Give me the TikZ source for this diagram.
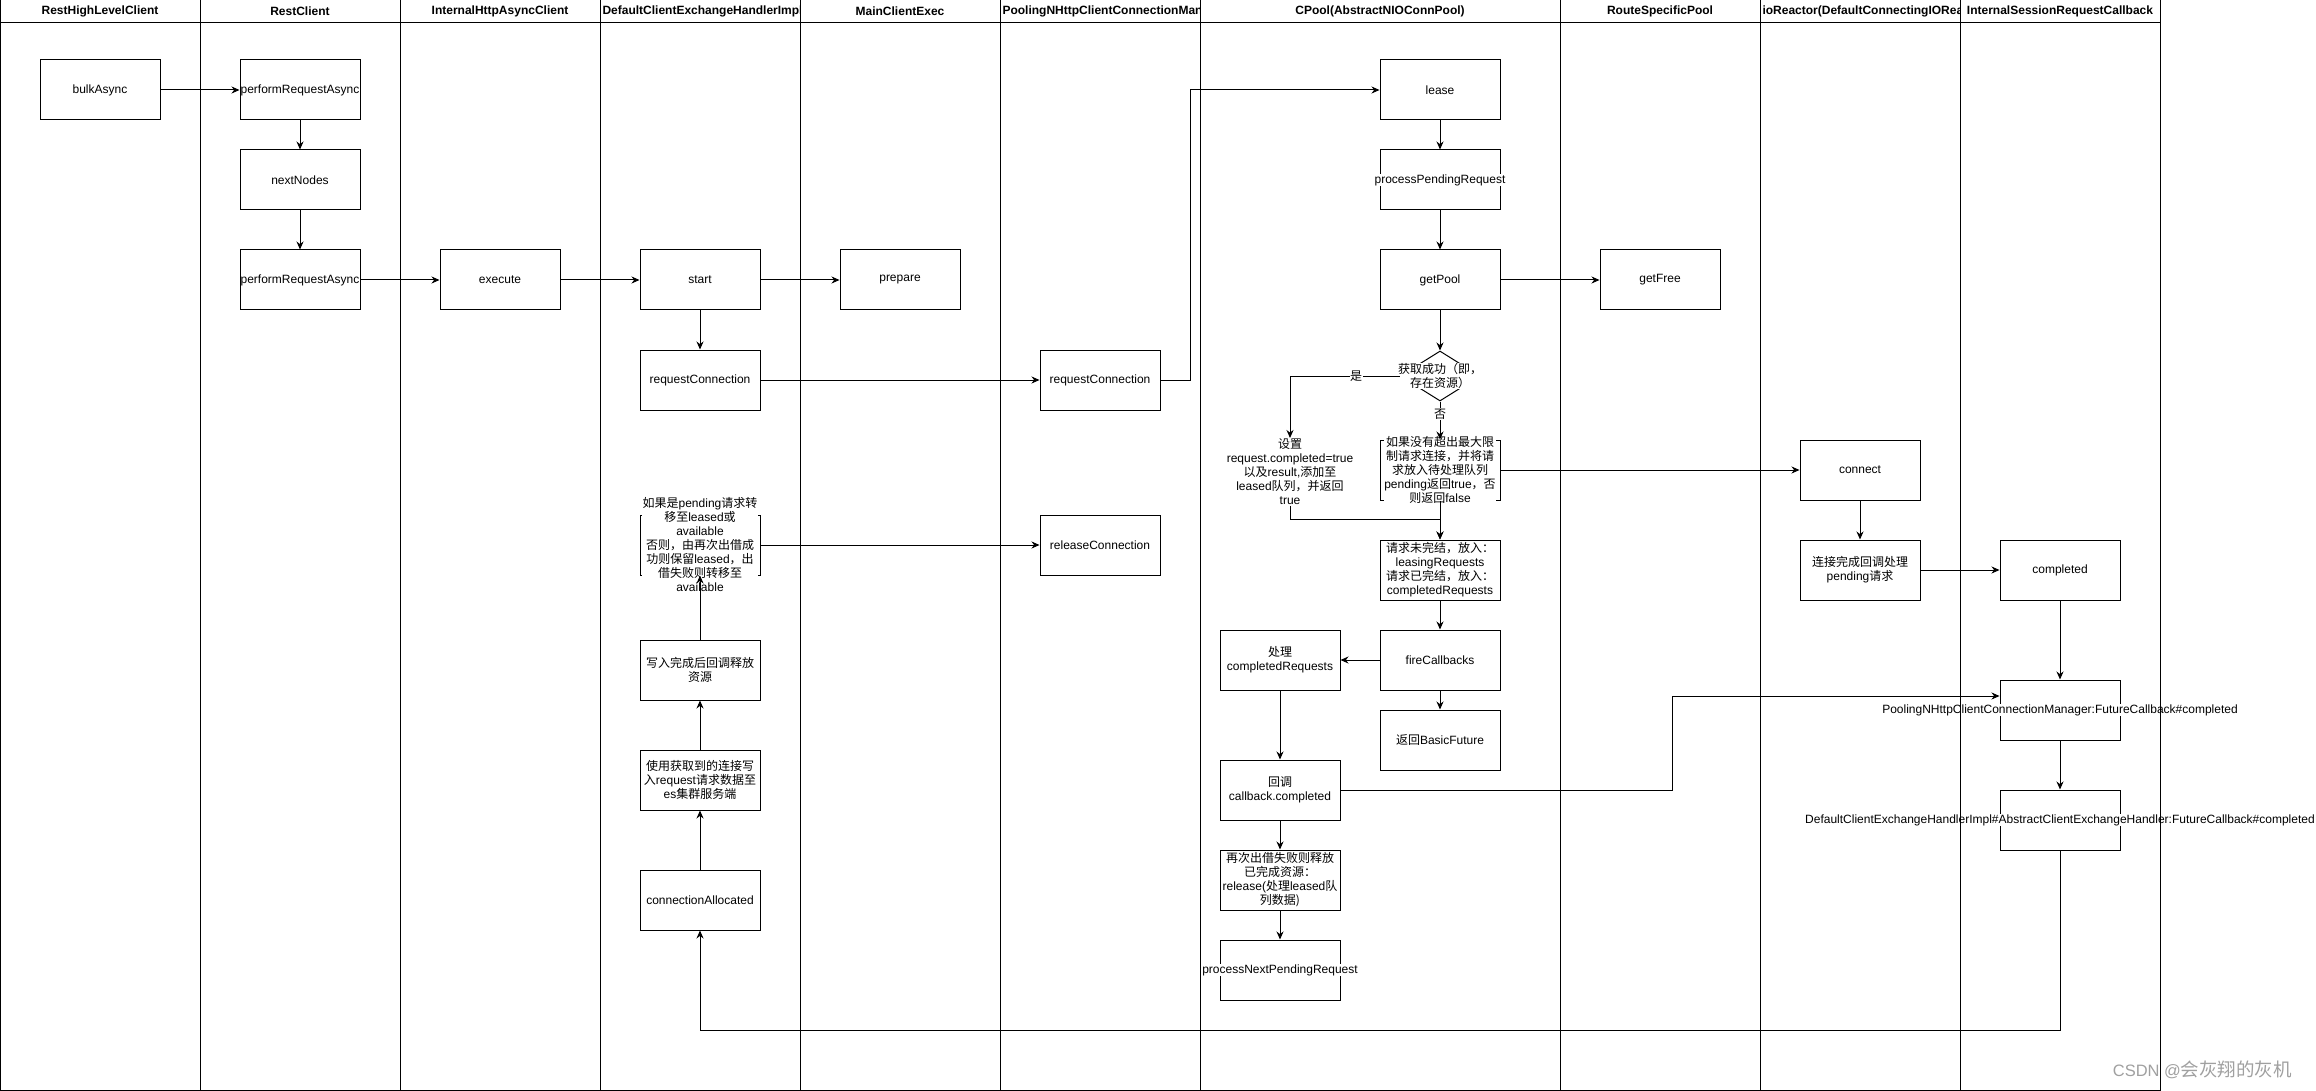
\documentclass[tikz,border=0pt]{standalone}
\usepackage{fontspec}
\setmainfont{Liberation Sans}
\newfontfamily\cjk{Noto Sans CJK SC}
\usetikzlibrary{arrows.meta,shapes.geometric}
\newcommand{\zh}[1]{{\cjk #1}}
\definecolor{markGray}{RGB}{160,160,160}

\begin{document}
\begin{tikzpicture}[x=1pt,y=-1pt,line width=1pt,
    font=\fontsize{12}{14}\selectfont,
    box/.style={draw,fill=white,minimum width=120pt,minimum height=60pt,inner sep=0pt,align=center},
    lbl/.style={fill=white,inner sep=0.5pt,align=center},
    flow/.style={-{Stealth[length=8pt,width=7pt]}},
    lanehead/.style={font=\fontsize{12}{14}\selectfont\bfseries}]
  \useasboundingbox (0,0) rectangle (2316,1091);

  % first lanes column
  \node[box] (bulk) at (100,90) {bulkAsync};
  \node[box] (pra) at (300,90) {performRequestAsync};
  \node[box] (nodes) at (300,180) {nextNodes};
  \node[box] (prb) at (300,280) {performRequestAsync};
  \node[box] (exec) at (500,280) {execute};

  % exchange handler
  \node[box] (start) at (700,280) {start};
  \node[box] (reqa) at (700,380) {requestConnection};
  \node[box] (relres) at (700,545) {};
  \node[lbl] at (relres) {\zh{如果是}pending\zh{请求转}\\\zh{移至}leased\zh{或}\\available\\\zh{否则，由再次出借成}\\\zh{功则保留}leased\zh{，出}\\\zh{借失败则转移至}\\available};
  \node[box] (wcb) at (700,670) {\zh{写入完成后回调释放}\\\zh{资源}};
  \node[box] (wreq) at (700,780) {\zh{使用获取到的连接写}\\\zh{入}request\zh{请求数据至}\\es\zh{集群服务端}};
  \node[box] (alloc) at (700,900) {connectionAllocated};
  \node[box] (prep) at (900,280) {prepare};

  % connection manager
  \node[box] (reqb) at (1100,380) {requestConnection};
  \node[box] (relc) at (1100,545) {releaseConnection};

  % pool
  \node[box] (lease) at (1440,90) {lease};
  \node[box] (ppr) at (1440,180) {};
  \node[lbl] at (ppr) {processPendingRequest};
  \node[box] (getpool) at (1440,280) {getPool};
  \node[diamond,draw,fill=white,minimum width=80pt,minimum height=50pt,inner sep=0pt] (dia) at (1440,376) {};
  \node[lbl] at (dia) {\zh{获取成功（即，}\\\zh{存在资源）}};
  \node[lbl] (set) at (1290,472) {\zh{设置}\\request.completed=true\\\zh{以及}result,\zh{添加至}\\leased\zh{队列，并返回}\\true};
  \node[box] (enq) at (1440,470) {};
  \node[lbl] at (enq) {\zh{如果没有超出最大限}\\\zh{制请求连接，并将请}\\\zh{求放入待处理队列}\\pending\zh{返回}true\zh{，否}\\\zh{则返回}false};
  \node[box] (queue) at (1440,570) {\zh{请求未完结，放入：}\\leasingRequests\\\zh{请求已完结，放入：}\\completedRequests};
  \node[box] (fire) at (1440,660) {fireCallbacks};
  \node[box] (bfut) at (1440,740) {\zh{返回}BasicFuture};
  \node[box] (proc) at (1280,660) {\zh{处理}\\completedRequests};
  \node[box] (cb) at (1280,790) {\zh{回调}\\callback.completed};
  \node[box] (rel) at (1280,880) {\zh{再次出借失败则释放}\\\zh{已完成资源：}\\release(\zh{处理}leased\zh{队}\\\zh{列数据)}};
  \node[box] (pnext) at (1280,970) {};
  \node[lbl] at (pnext) {processNextPendingRequest};
  \node[box] (getfree) at (1660,280) {getFree};

  % io reactor and callback
  \node[box] (conn) at (1860,470) {connect};
  \node[box] (conndone) at (1860,570) {\zh{连接完成回调处理}\\pending\zh{请求}};
  \node[box] (done) at (2060,570) {completed};
  \node[box] (futcb) at (2060,710) {};
  \node[lbl] at (futcb) {PoolingNHttpClientConnectionManager:FutureCallback\#completed};
  \node[box] (handlercb) at (2060,820) {};
  \node[lbl] at (handlercb) {DefaultClientExchangeHandlerImpl\#AbstractClientExchangeHandler:FutureCallback\#completed};

  % connectors
  \draw[flow] (bulk) -- (pra);
  \draw[flow] (pra) -- (nodes);
  \draw[flow] (nodes) -- (prb);
  \draw[flow] (prb) -- (exec);
  \draw[flow] (exec) -- (start);
  \draw[flow] (start) -- (prep);
  \draw[flow] (start) -- (reqa);
  \draw[flow] (reqa) -- (reqb);
  \draw[flow] (reqb.east) -- ++(30,0) |- (lease.west);
  \draw[flow] (lease) -- (ppr);
  \draw[flow] (ppr) -- (getpool);
  \draw[flow] (getpool) -- (getfree);
  \draw[flow] (getpool) -- (dia);
  \draw[flow] (dia.west) -| (set.north);
  \draw[flow] (dia.south) -- (enq.north);
  \draw[flow] (set.south) -- ++(0,14) -| (queue.north);
  \draw[flow] (enq) -- (queue);
  \draw[flow] (enq) -- (conn);
  \draw[flow] (queue) -- (fire);
  \draw[flow] (fire) -- (proc);
  \draw[flow] (fire) -- (bfut);
  \draw[flow] (proc) -- (cb);
  \draw[flow] (cb) -- (rel);
  \draw[flow] (rel) -- (pnext);
  \draw[flow] (cb.east) -- ++(332,0) |- ([yshift=14pt]futcb.west);
  \draw[flow] (conn) -- (conndone);
  \draw[flow] (conndone) -- (done);
  \draw[flow] (done) -- (futcb);
  \draw[flow] (futcb) -- (handlercb);
  \draw[flow] (handlercb.south) -- ++(0,180) -| (alloc.south);
  \draw[flow] (alloc) -- (wreq);
  \draw[flow] (wreq) -- (wcb);
  \draw[flow] (wcb) -- (relres);
  \draw[flow] (relres) -- (relc);
  \node[lbl] at (1356,376) {\zh{是}};
  \node[lbl] at (1440,414) {\zh{否}};

  % lanes
  \foreach \x/\w/\name in {0/200/RestHighLevelClient, 200/200/RestClient,
      400/200/InternalHttpAsyncClient, 800/200/MainClientExec,
      1200/360/CPool(AbstractNIOConnPool), 1560/200/RouteSpecificPool,
      1960/200/InternalSessionRequestCallback} {
    \draw (\x,0) rectangle ++(\w,1090);
    \draw (\x,23) -- ++(\w,0);
    \node[lanehead] at (\x+\w/2,11.5) {\name};
  }
  \foreach \x/\name in {600/DefaultClientExchangeHandlerImpl,
      1000/PoolingNHttpClientConnectionManag,
      1760/ioReactor(DefaultConnectingIOReacto} {
    \draw (\x,0) rectangle ++(200,1090);
    \draw (\x,23) -- ++(200,0);
    \begin{scope}
      \clip (\x,0) rectangle ++(200,23);
      \node[lanehead,anchor=west,inner sep=0pt] at (\x+2,11.5) {\name};
    \end{scope}
  }

  \node[text=markGray,font=\fontsize{16.5}{18}\selectfont,anchor=west] at (2109,1070) {CSDN @{\cjk\fontsize{18.5}{20}\selectfont 会灰翔的灰机}};
\end{tikzpicture}
\end{document}
